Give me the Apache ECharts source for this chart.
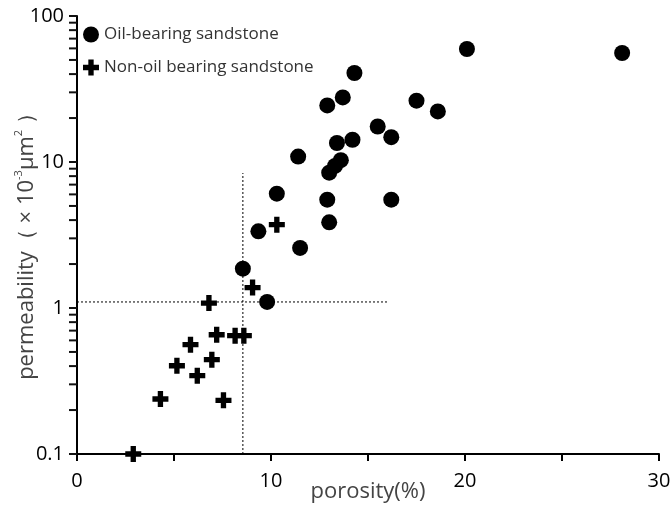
<!DOCTYPE html>
<html>
<head>
<meta charset="utf-8">
<script src="https://cdn.jsdelivr.net/npm/echarts@6/dist/echarts.min.js"></script>
<style>
  html, body { margin: 0; padding: 0; background: #fff; }
  #chart { width: 670px; height: 507px; }
</style>
</head>
<body>
<div id="chart"></div>
<script>
// oil-bearing sandstone samples: [porosity %, permeability 10^-3 um^2]
const oilPorosity = [20.1, 28.1, 17.5, 18.6, 14.3, 13.7, 12.9, 15.5, 16.2, 14.2, 13.4, 11.4, 13.6, 13.3, 13.0, 10.3, 12.9, 16.2, 13.0, 9.35, 11.5, 8.55, 9.8];
const oilPerm = [59.4, 55.8, 26.3, 22.2, 40.7, 27.7, 24.4, 17.5, 14.8, 14.2, 13.5, 10.9, 10.3, 9.4, 8.45, 6.07, 5.52, 5.52, 3.86, 3.35, 2.58, 1.86, 1.10];

// non-oil bearing sandstone samples
const dryPorosity = [10.3, 9.05, 6.8, 7.2, 8.15, 8.6, 5.85, 6.95, 5.15, 6.2, 4.3, 7.55, 2.9];
const dryPerm = [3.72, 1.38, 1.08, 0.656, 0.646, 0.646, 0.561, 0.443, 0.402, 0.344, 0.238, 0.233, 0.1];

// cut-off guide lines
const cutPorosity = 8.55;
const cutPerm = 1.1;
const cutPermTop = 8.4;
const cutPorosityRight = 16;

// axis ticks
const yTickValues = [0.1, 0.2, 0.3, 0.4, 0.5, 0.6, 0.7, 0.8, 0.9, 1, 2, 3, 4, 5, 6, 7, 8, 9, 10, 20, 30, 40, 50, 60, 70, 80, 90, 100];
const yLabelValues = [0.1, 1, 10, 100];
const xLabelValues = [0, 10, 20, 30];

const crossPath = 'path://M5,0H10V5H15V10H10V15H5V10H0V5H5Z';

const zip = (a, b) => a.map((v, i) => [v, b[i]]);

const chart = echarts.init(document.getElementById('chart'));

chart.setOption({
  animation: false,
  grid: { left: 77, right: 11, top: 16, bottom: 53, outerBoundsMode: 'none' },
  // y axis title, kept out of the axis so its rich text sits where the original does
  graphic: [
    {
      type: 'text',
      x: 27,
      y: 241,
      rotation: Math.PI / 2,
      style: {
        text: 'permeability（ × 10{s|-3}μm{s|2} ）',
        fontFamily: 'Open Sans',
        fontSize: 22,
        fill: '#444',
        align: 'center',
        verticalAlign: 'middle',
        rich: {
          s: { fontFamily: 'Open Sans', fontSize: 11, fill: '#444', verticalAlign: 'top', lineHeight: 28 }
        }
      }
    }
  ],
  legend: {
    orient: 'vertical',
    left: 83,
    top: 26,
    padding: 0,
    itemWidth: 16,
    itemHeight: 16,
    itemGap: 16,
    textStyle: { fontFamily: 'Open Sans', fontSize: 17, color: '#333' },
    data: [
      { name: 'Oil-bearing sandstone', icon: 'circle' },
      { name: 'Non-oil bearing sandstone', icon: crossPath }
    ]
  },
  xAxis: {
    type: 'value',
    min: 0,
    max: 30,
    interval: 5,
    name: 'porosity(%)',
    nameLocation: 'middle',
    nameGap: 27,
    nameMoveOverlap: false,
    nameTextStyle: { fontFamily: 'Open Sans', fontSize: 22, color: '#444', verticalAlign: 'top' },
    axisLine: { onZero: false, lineStyle: { color: '#000', width: 2 } },
    axisTick: { show: true, length: 7, lineStyle: { color: '#000', width: 2 } },
    axisLabel: {
      customValues: xLabelValues,
      margin: 17,
      fontFamily: 'Open Sans',
      fontSize: 20,
      color: '#000'
    },
    splitLine: { show: false }
  },
  yAxis: {
    type: 'log',
    min: 0.1,
    max: 100,
    axisLine: { show: true, onZero: false, lineStyle: { color: '#000', width: 2 } },
    axisTick: { show: true, length: 8, lineStyle: { color: '#111', width: 2 } },
    axisLabel: {
      customValues: yLabelValues,
      margin: 13,
      fontFamily: 'Open Sans',
      fontSize: 20,
      color: '#000'
    },
    splitLine: { show: false }
  },
  series: [
    {
      // 1..9 ticks of every decade, placed through the log axis scale
      type: 'custom',
      clip: false,
      data: yTickValues.map((v) => [0, v]),
      renderItem: (params, api) => {
        const p = api.coord([0, api.value(1)]);
        return {
          type: 'line',
          shape: { x1: p[0] - 8, y1: p[1], x2: p[0], y2: p[1] },
          style: { stroke: '#111', lineWidth: 2 }
        };
      }
    },
    {
      name: 'cutPorosity',
      type: 'line',
      data: [[cutPorosity, 0.1], [cutPorosity, cutPermTop]],
      symbol: 'none',
      silent: true,
      lineStyle: { color: '#000', width: 1, type: [2, 2] },
      z: 1
    },
    {
      name: 'cutPerm',
      type: 'line',
      data: [[0, cutPerm], [cutPorosityRight, cutPerm]],
      symbol: 'none',
      silent: true,
      lineStyle: { color: '#000', width: 1, type: [2, 2] },
      z: 1
    },
    {
      name: 'Oil-bearing sandstone',
      type: 'scatter',
      symbol: 'circle',
      symbolSize: 16,
      itemStyle: { color: '#000', opacity: 1 },
      data: zip(oilPorosity, oilPerm),
      z: 3
    },
    {
      name: 'Non-oil bearing sandstone',
      type: 'scatter',
      symbol: crossPath,
      symbolSize: 16,
      itemStyle: { color: '#000', opacity: 1 },
      data: zip(dryPorosity, dryPerm),
      z: 3
    }
  ]
});
</script>
</body>
</html>
